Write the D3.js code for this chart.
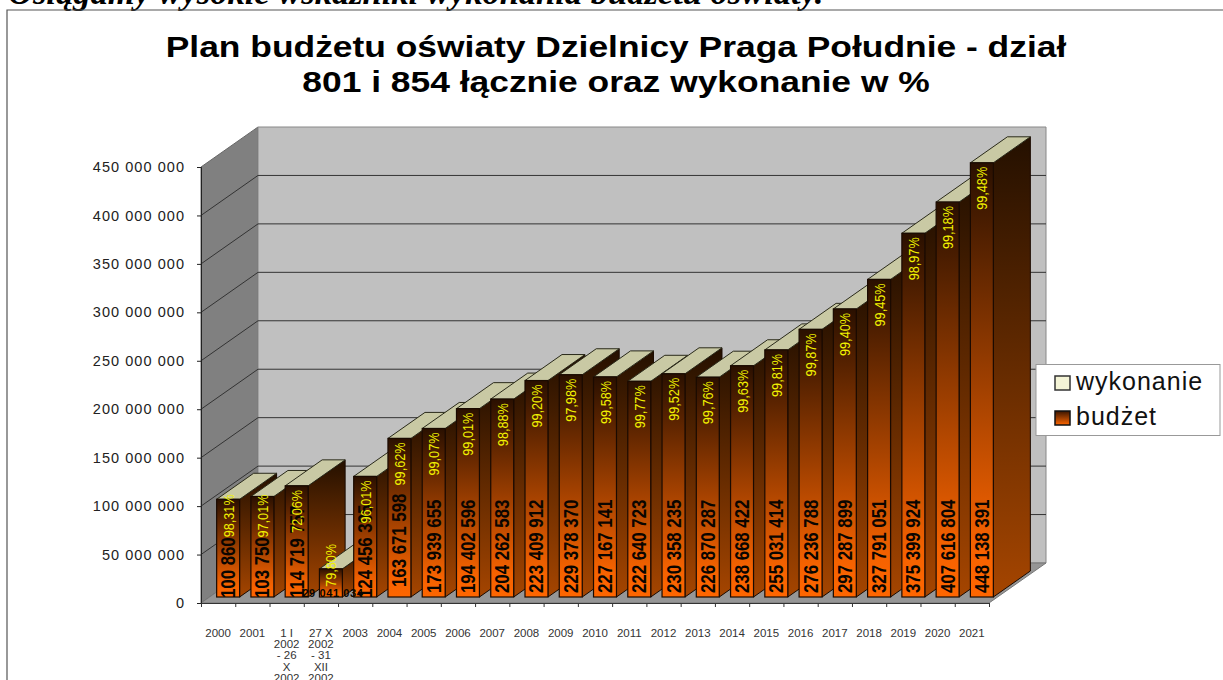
<!DOCTYPE html>
<html><head><meta charset="utf-8">
<script src="https://cdnjs.cloudflare.com/ajax/libs/d3/7.8.5/d3.min.js"></script>
<style>html,body{margin:0;padding:0;background:#fff;overflow:hidden}svg{display:block}</style>
</head><body><svg id="c" width="1223" height="680"></svg>
<script>
const categories = [["2000"],["2001"],["1 I","2002","- 26","X","2002"],["27 X","2002","- 31","XII","2002"],["2003"],["2004"],["2005"],["2006"],["2007"],["2008"],["2009"],["2010"],["2011"],["2012"],["2013"],["2014"],["2015"],["2016"],["2017"],["2018"],["2019"],["2020"],["2021"]];
const budzet = [100860000,103750000,114719757,29041034,124456395,163671598,173939655,194402596,204262583,223409912,229378370,227167141,222640723,230358235,226870287,238668422,255031414,276236788,297287899,327791051,375399924,407616804,448138391];
const budzetLabels = ["100 860","103 750","114 719 757","29 041 034","124 456 395","163 671 598","173 939 655","194 402 596","204 262 583","223 409 912","229 378 370","227 167 141","222 640 723","230 358 235","226 870 287","238 668 422","255 031 414","276 236 788","297 287 899","327 791 051","375 399 924","407 616 804","448 138 391"];
const wykonanie = ["98,31%","97,01%","72,06%","79,80%","96,01%","99,62%","99,07%","99,01%","98,88%","99,20%","97,98%","99,58%","99,77%","99,52%","99,76%","99,63%","99,81%","99,87%","99,40%","99,45%","98,97%","99,18%","99,48%"];
const yTicks = [0,50e6,100e6,150e6,200e6,250e6,300e6,350e6,400e6,450e6];
const legendItems = ["wykonanie","budżet"];
const titleLines = ["Plan budżetu oświaty Dzielnicy Praga Południe - dział","801 i 854 łącznie oraz wykonanie w %"];
const heading = "Osiągamy wysokie wskaźniki wykonania budżetu oświaty.";

const svg = d3.select("#c");
const SANS = "'Liberation Sans',Arial,sans-serif";
const x0=201,x1=989,yB=603,yT=167,wdx=57,wdy=40,bdx=37,bdy=26,inX=10,inY=6;
const y = d3.scaleLinear().domain([0,450e6]).range([yB,yT]);
const xb = d3.scaleBand().domain(d3.range(categories.length)).range([x0,x1]).paddingInner(0.33).paddingOuter(0.165);
const xe = d3.scaleLinear().domain([0,categories.length]).range([x0,x1]);
const defs = svg.append("defs");
function grad(id,stops){const g=defs.append("linearGradient").attr("id",id).attr("x1",0).attr("y1",1).attr("x2",0).attr("y2",0);
  stops.forEach(s=>g.append("stop").attr("offset",s[0]).attr("stop-color",s[1]));}
grad("front",[[0,"#ff6600"],[0.12,"#f56200"],[1,"#2a1000"]]);
grad("side",[[0,"#a54500"],[1,"#241000"]]);
grad("swB",[[0,"#ff6600"],[1,"#3a1500"]]);
const pts=a=>a.map(p=>p.join(",")).join(" ");

svg.append("text").attr("x",8).attr("y",4).attr("font-family","'Liberation Serif',serif").attr("font-weight","bold").attr("font-style","italic").attr("font-size",34.5).attr("fill","#000").text(heading);
svg.append("path").attr("d","M7,680V10H1223").attr("fill","none").attr("stroke","#555").attr("stroke-width",1.2);

titleLines.forEach((t,i)=>svg.append("text").attr("transform",`translate(616,${57+i*35}) scale(1.18,1)`).attr("text-anchor","middle").attr("font-family",SANS).attr("font-weight","bold").attr("font-size",30).attr("fill","#000").text(t));

// walls and floor
svg.append("polygon").attr("points",pts([[x0,yB],[x0,yT],[x0+wdx,yT-wdy],[x0+wdx,yB-wdy]])).attr("fill","#808080").attr("stroke","#666");
svg.append("polygon").attr("points",pts([[x0+wdx,yT-wdy],[x1+wdx,yT-wdy],[x1+wdx,yB-wdy],[x0+wdx,yB-wdy]])).attr("fill","#c0c0c0").attr("stroke","#888");
svg.append("polygon").attr("points",pts([[x0,yB],[x1,yB],[x1+wdx,yB-wdy],[x0+wdx,yB-wdy]])).attr("fill","#969696").attr("stroke","#777");
svg.append("g").selectAll("polyline").data(yTicks.slice(1,-1)).join("polyline")
  .attr("points",d=>pts([[x0,y(d)],[x0+wdx,y(d)-wdy],[x1+wdx,y(d)-wdy]]))
  .attr("fill","none").attr("stroke","#333").attr("stroke-width",1);

// axes
const yAxis = svg.append("g").attr("transform",`translate(${x0},0)`)
  .call(d3.axisLeft(y).tickValues(yTicks).tickSize(4).tickPadding(12).tickFormat(d=>d===0?"0":d3.format(",")(d).replace(/,/g," ")));
yAxis.selectAll("text").attr("font-family",SANS).attr("font-size",14.5).attr("letter-spacing","1.05px").attr("fill","#222");
yAxis.selectAll("line,path").attr("stroke","#222");
const xAxis = svg.append("g").attr("transform",`translate(0,${yB})`)
  .call(d3.axisBottom(xe).tickValues(d3.range(categories.length+1)).tickSize(4).tickFormat(""));
xAxis.selectAll("line,path").attr("stroke","#333");
const cat = svg.append("g").selectAll("text").data(categories).join("text")
  .attr("text-anchor","middle").attr("font-family",SANS).attr("font-size",11.5).attr("fill","#333");
cat.selectAll("tspan").data((d,i)=>d.map(s=>({s,i}))).join("tspan")
  .attr("x",d=>xe(d.i+0.5)).attr("y",(d,j)=>637+j*11.2).text(d=>d.s);

// bars
const w = xb.bandwidth();
const bars = svg.append("g").selectAll("g").data(budzet).join("g");
const bl=(d,i)=>xb(i)+inX, bb=yB-inY, bt=d=>y(d)-inY;
bars.append("polygon").attr("points",(d,i)=>pts([[bl(d,i)+w,bb],[bl(d,i)+w,bt(d)],[bl(d,i)+w+bdx,bt(d)-bdy],[bl(d,i)+w+bdx,bb-bdy]]))
  .attr("fill","url(#side)").attr("stroke","#1a0a00").attr("stroke-width",1);
bars.append("polygon").attr("points",(d,i)=>pts([[bl(d,i),bt(d)],[bl(d,i)+w,bt(d)],[bl(d,i)+w+bdx,bt(d)-bdy],[bl(d,i)+bdx,bt(d)-bdy]]))
  .attr("fill","#c9c9a4").attr("stroke","#2a2a1a").attr("stroke-width",1);
bars.append("rect").attr("x",(d,i)=>bl(d,i)).attr("y",d=>bt(d)).attr("width",w).attr("height",d=>bb-bt(d))
  .attr("fill","url(#front)").attr("stroke","#1a0a00").attr("stroke-width",1.2);

// value labels
const isHoriz=i=>budzet[i]<50e6;
const labelStart=i=>budzet[i]<130e6?598:(budzet[i]<170e6?587:593);
svg.append("g").selectAll("text").data(budzetLabels).join("text")
  .attr("transform",(d,i)=>isHoriz(i)?`translate(${bl(0,i)+w/2+2},597)`:`translate(${bl(0,i)+w/2+7},${labelStart(i)}) rotate(-90) scale(0.8,1)`)
  .attr("text-anchor",(d,i)=>isHoriz(i)?"middle":"start")
  .attr("font-family",SANS).attr("font-weight","bold").attr("font-size",(d,i)=>isHoriz(i)?11:21).attr("letter-spacing",(d,i)=>isHoriz(i)?"0.6px":null)
  .attr("fill","#0a0500").text(d=>d);
const pctShift=i=>({0:-9,1:-6,3:-29}[i]||0);
svg.append("g").selectAll("text").data(wykonanie).join("text")
  .attr("transform",(d,i)=>`translate(${bl(0,i)+w/2+5.5},${bt(budzet[i])+4+pctShift(i)}) rotate(-90) scale(0.82,1)`)
  .attr("text-anchor","end").attr("font-family",SANS).attr("font-size",15.5).attr("fill","#f2f200").text(d=>d);

// legend
const lg=svg.append("g");
lg.append("rect").attr("x",1036).attr("y",364.5).attr("width",184).attr("height",71).attr("fill","#fff").attr("stroke","#999");
legendItems.forEach((t,i)=>{
  const yy=376+i*35;
  lg.append("rect").attr("x",1055).attr("y",yy).attr("width",15).attr("height",14)
    .attr("fill",i?"url(#swB)":"#f4f4d6").attr("stroke",i?"#111":"#333").attr("stroke-width",1.5);
  lg.append("text").attr("x",1076).attr("y",yy+14).attr("font-family",SANS).attr("font-size",25).attr("letter-spacing","1px").attr("fill","#111").text(t);
});
</script></body></html>
